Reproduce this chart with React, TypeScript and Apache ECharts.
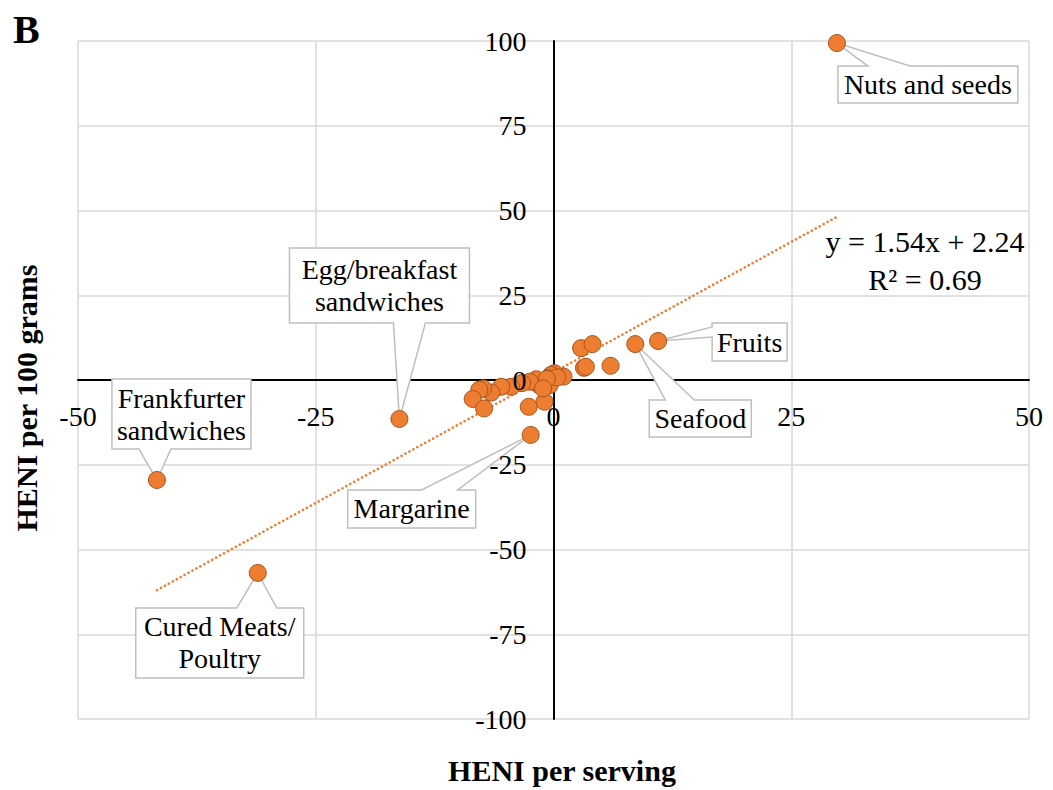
import React, { useEffect, useRef } from "react";
import * as echarts from "echarts";

// Foods that carry a callout label
const labeledFoods = [
  "Nuts and seeds",
  "Frankfurter\nsandwiches",
  "Egg/breakfast\nsandwiches",
  "Cured Meats/\nPoultry",
  "Margarine",
  "Seafood",
  "Fruits",
];
const labeledPerServing = [29.8, -41.7, -16.2, -31.1, -2.4, 8.6, 11.0];
const labeledPer100g = [99.4, -29.5, -11.5, -56.9, -16.2, 10.6, 11.5];

// Remaining food categories (unlabeled)
const otherPerServing = [
  2.9, 4.1, 3.2, 3.4, 6.0, 1.05, 0.1, -0.25, -0.6, -0.9, -1.2, -0.4, -1.5, -2.0, -1.8,
  -2.5, -3.3, -4.45, -5.5, -6.55, -7.4, -7.8, -8.5, -7.3, -2.6, -0.95, 0.4, -0.7, -1.1,
];
const otherPer100g = [
  9.4, 10.6, 3.6, 3.9, 4.2, 1.0, 2.0, 1.5, 0.5, -0.5, -1.0, -1.5, -1.5, -0.5, 0.2,
  -0.5, -0.9, -2.0, -2.0, -3.7, -2.5, -2.9, -5.6, -8.4, -7.9, -6.4, 0.8, 0.3, -2.5,
];

// Linear fit
const trendSlope = 1.54;
const trendIntercept = 2.24;
const rSquared = 0.69;

const xTicks = [-50, -25, 0, 25, 50];
const yTicks = [-100, -75, -50, -25, 0, 25, 50, 75, 100];

// Chart frame
const WIDTH = 1053;
const HEIGHT = 790;
const GRID = { left: 78, right: 24, top: 41, bottom: 71 };
const GRID_W = WIDTH - GRID.left - GRID.right;
const GRID_H = HEIGHT - GRID.top - GRID.bottom;

// Callout boxes: offset of the box's top-left corner from the point (px),
// box size, the edge carrying the pointer and where the pointer meets that edge.
type Side = "top" | "bottom" | "left";
const calloutLayout: { left: number; top: number; w: number; h: number; side: Side; a: number; b: number }[] = [
  { left: 1, top: 23, w: 180, h: 37, side: "top", a: 30, b: 72 },
  { left: -45, top: -101, w: 139, h: 70, side: "bottom", a: 27, b: 59 },
  { left: -110, top: -171, w: 180, h: 75, side: "bottom", a: 104, b: 136 },
  { left: -122, top: 35, w: 168, h: 70, side: "top", a: 101, b: 141 },
  { left: -183, top: 55, w: 128, h: 38, side: "top", a: 74, b: 110 },
  { left: 14, top: 56, w: 102, h: 37, side: "top", a: 16, b: 45 },
  { left: 54, top: -18, w: 75, h: 38, side: "left", a: 4, b: 14 },
];

const SERIF = '"Liberation Serif", "Times New Roman", serif';
const ORANGE = "#ED7D31";

function calloutPoints(x0: number, y0: number, w: number, h: number, side: Side, a: number, b: number, px: number, py: number) {
  if (side === "top")
    return [[x0, y0], [x0 + a, y0], [px, py], [x0 + b, y0], [x0 + w, y0], [x0 + w, y0 + h], [x0, y0 + h]];
  if (side === "bottom")
    return [[x0, y0], [x0 + w, y0], [x0 + w, y0 + h], [x0 + b, y0 + h], [px, py], [x0 + a, y0 + h], [x0, y0 + h]];
  return [[x0, y0], [x0 + w, y0], [x0 + w, y0 + h], [x0, y0 + h], [x0, y0 + b], [px, py], [x0, y0 + a]];
}

const centered = {
  align: "center",
  verticalAlign: "middle",
  textAlign: "center",
  textVerticalAlign: "middle",
};

const tickLabelStyle = { fontSize: 28, fontFamily: SERIF, color: "#000" };

export default function App() {
  const ref = useRef<HTMLDivElement>(null);

  useEffect(() => {
    document.body.style.margin = "0";
    const chart = echarts.init(ref.current!, null, { renderer: "svg" });

    const xMin = xTicks[0];
    const xMax = xTicks[xTicks.length - 1];
    const yMin = yTicks[0];
    const yMax = yTicks[yTicks.length - 1];
    // Axes cross at the origin: shift each axis inward to the other axis' zero
    const xAxisOffset = -GRID_H * (0 - yMin) / (yMax - yMin);
    const yAxisOffset = -GRID_W * (0 - xMin) / (xMax - xMin);

    const allX = [...labeledPerServing, ...otherPerServing];
    const minX = Math.min(...allX);
    const maxX = Math.max(...allX);
    const trendData = [
      [minX, trendSlope * minX + trendIntercept],
      [maxX, trendSlope * maxX + trendIntercept],
    ];

    const pointData = [
      ...otherPerServing.map((x, i) => [x, otherPer100g[i]]),
      ...labeledPerServing.map((x, i) => [x, labeledPer100g[i]]),
    ];

    const yBase = { type: "value", position: "left", offset: yAxisOffset, min: yMin, max: yMax, interval: 25 };

    const staticGraphics = [
      { type: "text", left: 13, top: 9, style: { text: "B", font: `bold 40px ${SERIF}`, fill: "#000" } },
      {
        type: "text",
        x: 562,
        y: 770,
        style: { text: "HENI per serving", font: `bold 30px ${SERIF}`, fill: "#000", ...centered },
      },
      {
        type: "text",
        x: 26,
        y: 398,
        rotation: Math.PI / 2,
        style: { text: "HENI per 100 grams", font: `bold 30px ${SERIF}`, fill: "#000", ...centered },
      },
      {
        type: "text",
        x: 925,
        y: 241,
        style: {
          text: `y = ${trendSlope.toFixed(2)}x + ${trendIntercept.toFixed(2)}`,
          font: `30px ${SERIF}`,
          fill: "#000",
          ...centered,
        },
      },
      {
        type: "text",
        x: 925,
        y: 279,
        style: { text: `R² = ${rSquared.toFixed(2)}`, font: `30px ${SERIF}`, fill: "#000", ...centered },
      },
    ];

    chart.setOption({
      animation: false,
      backgroundColor: "#fff",
      grid: GRID,
      xAxis: {
        type: "value",
        position: "bottom",
        offset: xAxisOffset,
        min: xMin,
        max: xMax,
        interval: 25,
        axisLine: { show: true, onZero: false, lineStyle: { color: "#000", width: 2 } },
        axisTick: { show: false },
        axisLabel: { show: false },
        splitLine: { show: true, lineStyle: { color: "#d9d9d9", width: 1.5 } },
      },
      yAxis: [
        {
          ...yBase,
          axisLine: { show: true, onZero: false, lineStyle: { color: "#000", width: 2 } },
          axisTick: { show: false },
          axisLabel: { show: false },
          splitLine: { show: true, lineStyle: { color: "#d9d9d9", width: 1.5 } },
        },
        {
          // tick labels, drawn above the markers
          ...yBase,
          z: 10,
          axisLine: { show: false, onZero: false },
          axisTick: { show: false },
          splitLine: { show: false },
          axisLabel: { ...tickLabelStyle, margin: 27 },
        },
      ],
      graphic: staticGraphics,
      series: [
        {
          type: "line",
          data: trendData,
          showSymbol: false,
          silent: true,
          z: 2,
          lineStyle: { color: ORANGE, width: 2.6, type: [0.1, 4.4], cap: "round" },
        },
        {
          type: "custom",
          z: 3,
          clip: false,
          silent: true,
          data: labeledPerServing.map((x, i) => [x, labeledPer100g[i]]),
          renderItem: (params: any, api: any) => {
            const i = params.dataIndex;
            const [px, py] = api.coord([api.value(0), api.value(1)]);
            const L = calloutLayout[i];
            const x0 = px + L.left;
            const y0 = py + L.top;
            return {
              type: "group",
              children: [
                {
                  type: "polygon",
                  shape: { points: calloutPoints(x0, y0, L.w, L.h, L.side, L.a, L.b, px, py) },
                  style: { fill: "#fff", stroke: "#bfbfbf", lineWidth: 1.5 },
                },
                {
                  type: "text",
                  style: {
                    text: labeledFoods[i],
                    x: x0 + L.w / 2,
                    y: y0 + L.h / 2,
                    ...centered,
                    fontSize: 28,
                    fontFamily: SERIF,
                    lineHeight: 32,
                    fill: "#000",
                  },
                },
              ],
            };
          },
        },
        {
          type: "scatter",
          z: 4,
          data: pointData,
          symbolSize: 17,
          itemStyle: { color: ORANGE, borderColor: "#A8541C", borderWidth: 1, opacity: 1 },
        },
      ],
    });

    // x tick labels sit just below the horizontal axis line (y = 0), above the markers
    const xLabelGraphics = xTicks.map((t) => {
      const [px, py] = chart.convertToPixel({ gridIndex: 0 }, [t, 0]) as number[];
      return {
        type: "text",
        z: 100,
        x: px,
        y: py + 22,
        style: {
          text: `${t}`,
          font: `28px ${SERIF}`,
          fill: "#000",
          align: "center",
          verticalAlign: "top",
          textAlign: "center",
          textVerticalAlign: "top",
        },
      };
    });
    chart.setOption({ graphic: [...staticGraphics, ...xLabelGraphics] });

    return () => chart.dispose();
  }, []);

  return <div ref={ref} style={{ width: WIDTH, height: HEIGHT }} />;
}
